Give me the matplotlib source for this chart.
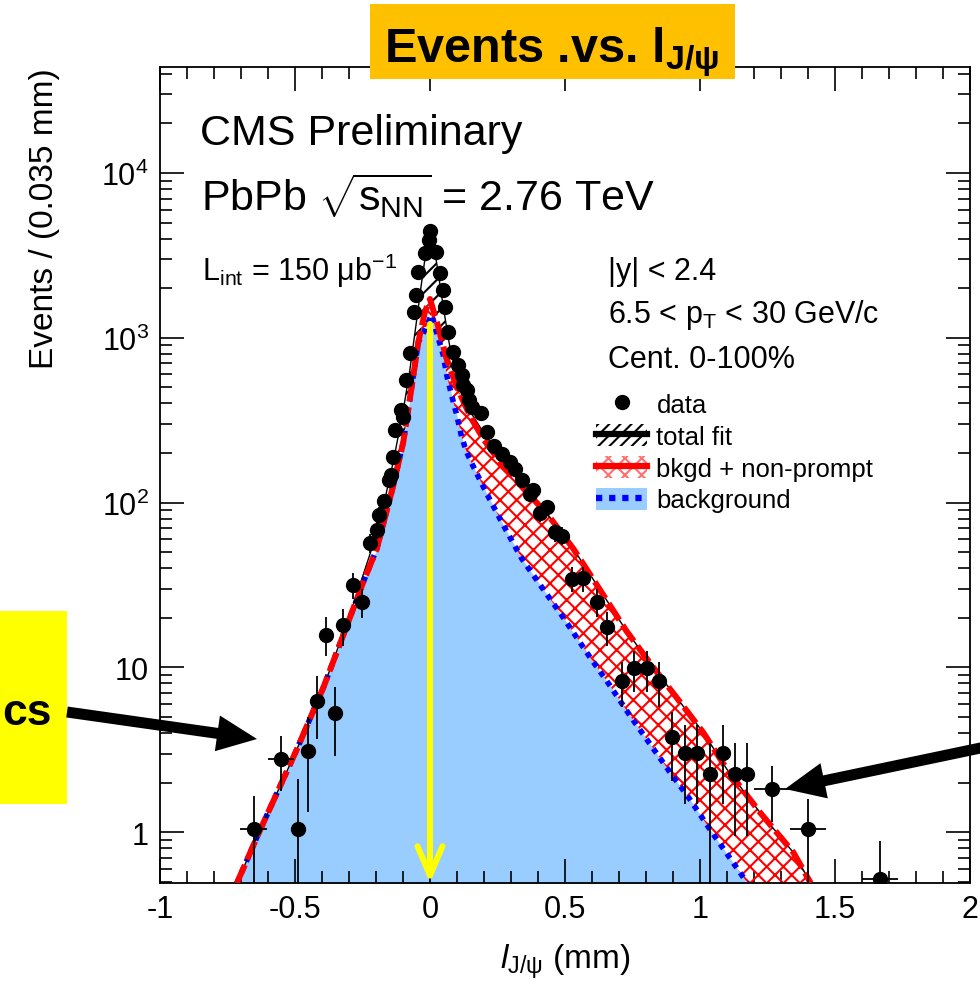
import numpy as np
import matplotlib
matplotlib.use('Agg')
import matplotlib.pyplot as plt
import matplotlib.patches as mpatches
from matplotlib.lines import Line2D
from matplotlib.ticker import FixedLocator, MultipleLocator, LogLocator, NullFormatter

plt.rcParams['font.family'] = 'Liberation Sans'
plt.rcParams['mathtext.fontset'] = 'custom'
plt.rcParams['mathtext.rm'] = 'Liberation Sans'
plt.rcParams['mathtext.it'] = 'Liberation Sans:italic'
plt.rcParams['mathtext.bf'] = 'Liberation Sans:bold'
plt.rcParams['axes.unicode_minus'] = False
plt.rcParams['hatch.linewidth'] = 1.5

# --- data points (l_J/psi in mm, events per bin) ---
data_l = [-0.652, -0.552, -0.488, -0.451, -0.420, -0.385, -0.352, -0.321, -0.286, -0.253,
          -0.221, -0.197, -0.188, -0.170, -0.153, -0.143, -0.137, -0.130, -0.109, -0.099,
          -0.089, -0.074, -0.059, -0.052, -0.043, -0.019, -0.004, 0.0,
          0.022, 0.037, 0.049, 0.056, 0.068, 0.086, 0.105, 0.117, 0.123, 0.136,
          0.146, 0.157, 0.190, 0.212, 0.238, 0.266, 0.296, 0.315, 0.340, 0.370,
          0.383, 0.407, 0.434, 0.463, 0.488, 0.525, 0.568, 0.617, 0.657, 0.710,
          0.754, 0.804, 0.849, 0.896, 0.944, 0.988, 1.037, 1.084, 1.128, 1.175,
          1.267, 1.400, 1.667]
data_n = [1.04, 2.78, 1.04, 3.12, 6.28, 15.8, 5.27, 18.0, 31.8, 25.0,
          57, 68, 84.5, 103, 137, 148, 190, 275, 364, 332,
          554, 805, 1443, 1820, 2525, 3265, 3930, 4460,
          3340, 2466, 1952, 1548, 1090, 824, 684, 594, 517, 482,
          419, 380, 348, 269, 220, 196, 177, 161, 137, 113.5,
          119, 86, 94, 66, 63, 34.5, 34.8, 25.1, 17.6, 8.3,
          9.9, 9.9, 8.3, 3.76, 3.02, 3.02, 2.25, 3.02, 2.25, 2.25,
          1.83, 1.04, 0.52]
data_err_lo = [1.03, 1.01, 1.03, 1.8, 2.58, 4.0, 2.37, 4.5, 5.6, 5.0,
               7.5, 8, 9, 10, 12, 12, 14, 17, 19, 18,
               24, 28, 38, 43, 50, 57, 63, 67,
               58, 50, 44, 39, 33, 29, 26, 24, 23, 22,
               20, 19, 19, 16, 15, 14, 13, 13, 12, 11,
               11, 9.5, 10, 8.5, 8, 6, 6, 5, 4.1, 2.55,
               2.8, 2.8, 2.55, 1.72, 1.54, 1.54, 2.24, 1.54, 1.3, 1.3,
               0.68, 1.03, 0.51]
data_err_hi = [0.62, 1.05, 1.06, 1.88, 2.62, 4.5, 2.33, 4.6, 5.6, 5.0,
               7.5, 8, 9, 10, 12, 12, 14, 17, 19, 18,
               24, 28, 38, 43, 50, 57, 63, 67,
               58, 50, 44, 39, 33, 29, 26, 24, 23, 22,
               20, 19, 19, 16, 15, 14, 13, 13, 12, 11,
               11, 9.5, 10, 8.5, 8, 6, 6, 5, 4.1, 2.5,
               2.7, 2.7, 2.5, 1.6, 1.48, 1.48, 1.25, 1.48, 1.25, 1.25,
               0.69, 0.55, 0.36]
data_xerr = [0.05, 0.049] + [0.0] * 66 + [0.068, 0.068, 0.068]

# --- background component ---
bkg_l = [-0.715, -0.633, -0.494, -0.395, -0.320, -0.247, -0.197, -0.136, -0.099, -0.080,
         -0.060, -0.043, -0.0185, 0.005, 0.031, 0.049, 0.062, 0.080, 0.099, 0.117,
         0.135, 0.154, 0.210, 0.272, 0.340, 0.414, 0.488, 0.593, 0.667, 0.741,
         0.815, 0.889, 0.963, 1.037, 1.148, 1.175]
bkg_n = [0.492, 1.0, 3.16, 7.55, 15.9, 33.0, 52.5, 127, 233, 372,
         616, 946, 1120, 1380, 993, 787, 594, 449, 340, 251,
         204, 174, 113.5, 72.8, 45.7, 30.7, 20.7, 11.5, 7.74, 5.09,
         3.43, 2.31, 1.58, 1.04, 0.57, 0.492]

# --- background + non-prompt ---
bnp_l = [-0.715, -0.633, -0.494, -0.395, -0.320, -0.247, -0.197, -0.136, -0.099, -0.080,
         -0.060, -0.043, -0.0185, 0.0, 0.03, 0.06, 0.10, 0.15, 0.20, 0.25,
         0.30, 0.35, 0.438, 0.531, 0.63, 0.728, 0.827, 0.926, 1.012, 1.099,
         1.222, 1.346, 1.41]
bnp_n = [0.492, 1.0, 3.16, 7.55, 15.9, 33.0, 52.5, 127, 233, 372,
         616, 946, 1443, 1720, 1175, 760, 500, 331, 240, 186,
         148, 120, 83.8, 52.5, 29.5, 16.6, 10.0, 6.17, 4.03, 2.42,
         1.32, 0.753, 0.492]

# --- total fit ---
tot_l = [-0.715, -0.633, -0.494, -0.395, -0.30, -0.22, -0.17, -0.137, -0.10, -0.075,
         -0.05, -0.03, -0.015, 0.0, 0.015, 0.03, 0.05, 0.075, 0.10, 0.15,
         0.20, 0.30, 0.35, 0.438, 0.531, 0.63, 0.728, 0.827, 0.926, 1.012,
         1.099, 1.222, 1.346, 1.41]
tot_n = [0.492, 1.0, 3.16, 7.55, 20, 50, 100, 174, 355, 631,
         1260, 2240, 3310, 4370, 3550, 2510, 1510, 851, 575, 355,
         263, 155, 122, 84, 52.5, 29.5, 16.6, 10.0, 6.17, 4.03,
         2.42, 1.32, 0.753, 0.492]

x_ticks = [-1, -0.5, 0, 0.5, 1, 1.5, 2]
x_tick_labels = ['-1', '-0.5', '0', '0.5', '1', '1.5', '2']
y_ticks = [1, 10, 100, 1000, 10000]
y_tick_labels = ['1', '10', r'$10^{2}$', r'$10^{3}$', r'$10^{4}$']

W, H = 980, 995
fig = plt.figure(figsize=(W / 100, H / 100), dpi=100)
ax = fig.add_axes([160 / W, 111 / H, 810 / W, 816 / H])
ax.set_yscale('log')
ax.set_xlim(-1, 2)
ax.set_ylim(0.492, 44000)

# components
ax.fill_between(bkg_l, bkg_n, 0.01, color='#99ccff', lw=0, zorder=1)
ax.fill(np.concatenate([bnp_l, bkg_l[::-1]]), np.concatenate([bnp_n, bkg_n[::-1]]),
        facecolor='none', edgecolor='red', hatch='xx', lw=0, zorder=2)
ax.fill(np.concatenate([tot_l, bnp_l[::-1]]), np.concatenate([tot_n, bnp_n[::-1]]),
        facecolor='none', edgecolor='black', hatch='//', lw=0, zorder=3)
ax.plot(bkg_l, bkg_n, color='blue', lw=4, ls=(0, (1, 1.1)), zorder=4)
ax.plot(tot_l, tot_n, color='black', lw=1, zorder=4.5)
ax.plot(bnp_l, bnp_n, color='red', lw=4.3, ls=(0, (3.3, 1)), zorder=5)

# yellow arrow at l = 0
ax.annotate('', xy=(0, 0.492), xytext=(0, 1214),
            arrowprops=dict(arrowstyle='->,head_length=1.05,head_width=0.45',
                            color='#ffff00', lw=4.3, mutation_scale=20,
                            shrinkA=0, shrinkB=0), zorder=6)

# data
ax.errorbar(data_l, data_n, yerr=[data_err_lo, data_err_hi], xerr=data_xerr,
            fmt='o', color='black', ms=10, elinewidth=1.3, capsize=0, zorder=7)

# axes styling (ROOT-like)
ax.xaxis.set_major_locator(FixedLocator(x_ticks))
ax.set_xticklabels(x_tick_labels)
ax.xaxis.set_minor_locator(MultipleLocator(0.1))
ax.yaxis.set_major_locator(FixedLocator(y_ticks))
ax.set_yticklabels(y_tick_labels)
ax.yaxis.set_minor_locator(LogLocator(base=10, subs=(2, 3, 4, 5, 6, 7, 8, 9), numticks=20))
ax.yaxis.set_minor_formatter(NullFormatter())
ax.tick_params(which='both', direction='in', top=True, right=True, width=1.2)
ax.tick_params(which='major', length=17, labelsize=22, pad=8)
ax.tick_params(which='minor', length=8.5)
for s in ax.spines.values():
    s.set_linewidth(1.3)

ax.set_ylabel('Events / (0.035 mm)', fontsize=24, loc='top')
ax.yaxis.set_label_coords(-0.123, 1.0)
ax.set_xlabel(r'$\mathit{l}_{\mathrm{J/\psi}}$ (mm)', fontsize=24)
ax.xaxis.set_label_coords(0.5, -0.072)
ax.xaxis.label.set_va('top')

# legend
handles = [
    Line2D([], [], marker='o', ls='none', color='black', ms=10),
    (mpatches.Patch(facecolor='none', edgecolor='black', hatch='///', lw=0),
     Line2D([], [], color='black', lw=4.5)),
    (mpatches.Patch(facecolor='white', edgecolor='#ff7070', hatch='xx', lw=0),
     Line2D([], [], color='red', lw=4.5)),
    (mpatches.Patch(facecolor='#99ccff', lw=0),
     Line2D([], [], color='blue', lw=4.5, ls=(0, (1, 1.1)))),
]
labels = ['data', 'total fit', 'bkgd + non-prompt', 'background']
ax.legend(handles, labels, loc='upper left', bbox_to_anchor=(596 / W, 1 - 393 / H),
          bbox_transform=fig.transFigure, frameon=False, fontsize=18.5,
          handlelength=2.0, handleheight=0.95, handletextpad=0.35,
          labelspacing=0.27, borderpad=0, borderaxespad=0)

# texts in figure pixels
def px(x, y):
    return x / W, 1 - y / H

fig.text(*px(200, 145), 'CMS Preliminary', fontsize=31, va='baseline')
fig.text(*px(201, 211), r'PbPb $\sqrt{\mathrm{s}_{\mathrm{NN}}}$ = 2.76 TeV', fontsize=31, va='baseline')
fig.text(*px(202, 281), r'L$_{\mathrm{int}}$ = 150 μb$^{-1}$', fontsize=22, va='baseline')
fig.text(*px(608, 280), '|y| < 2.4', fontsize=22, va='baseline')
fig.text(*px(608, 323), r'6.5 < p$_{\mathrm{T}}$ < 30 GeV/c', fontsize=22, va='baseline')
fig.text(*px(608, 368), 'Cent. 0-100%', fontsize=22, va='baseline')

# overlay for boxes and arrows (pixel coordinates)
ov = fig.add_axes([0, 0, 1, 1], zorder=10)
ov.set_xlim(0, W)
ov.set_ylim(H, 0)
ov.axis('off')
ov.add_patch(mpatches.Rectangle((370, 5), 365, 75, color='#ffc000', lw=0))
ov.text(552, 62, r'Events .vs. l$_{\mathbf{J/\psi}}$', fontsize=35, fontweight='bold',
        ha='center', va='baseline')
ov.add_patch(mpatches.Rectangle((0, 612), 67, 193, color='#ffff00', lw=0))
ov.text(2, 725, 'cs', fontsize=32, fontweight='bold', ha='left', va='baseline')
ov.add_patch(mpatches.FancyArrow(67, 713, 190, 27, width=11, head_width=36, head_length=40,
                                 length_includes_head=True, color='black', lw=0))
ov.add_patch(mpatches.FancyArrow(990, 747, -205, 43, width=11, head_width=36, head_length=40,
                                 length_includes_head=True, color='black', lw=0))

fig.savefig('out.png', dpi=100)
